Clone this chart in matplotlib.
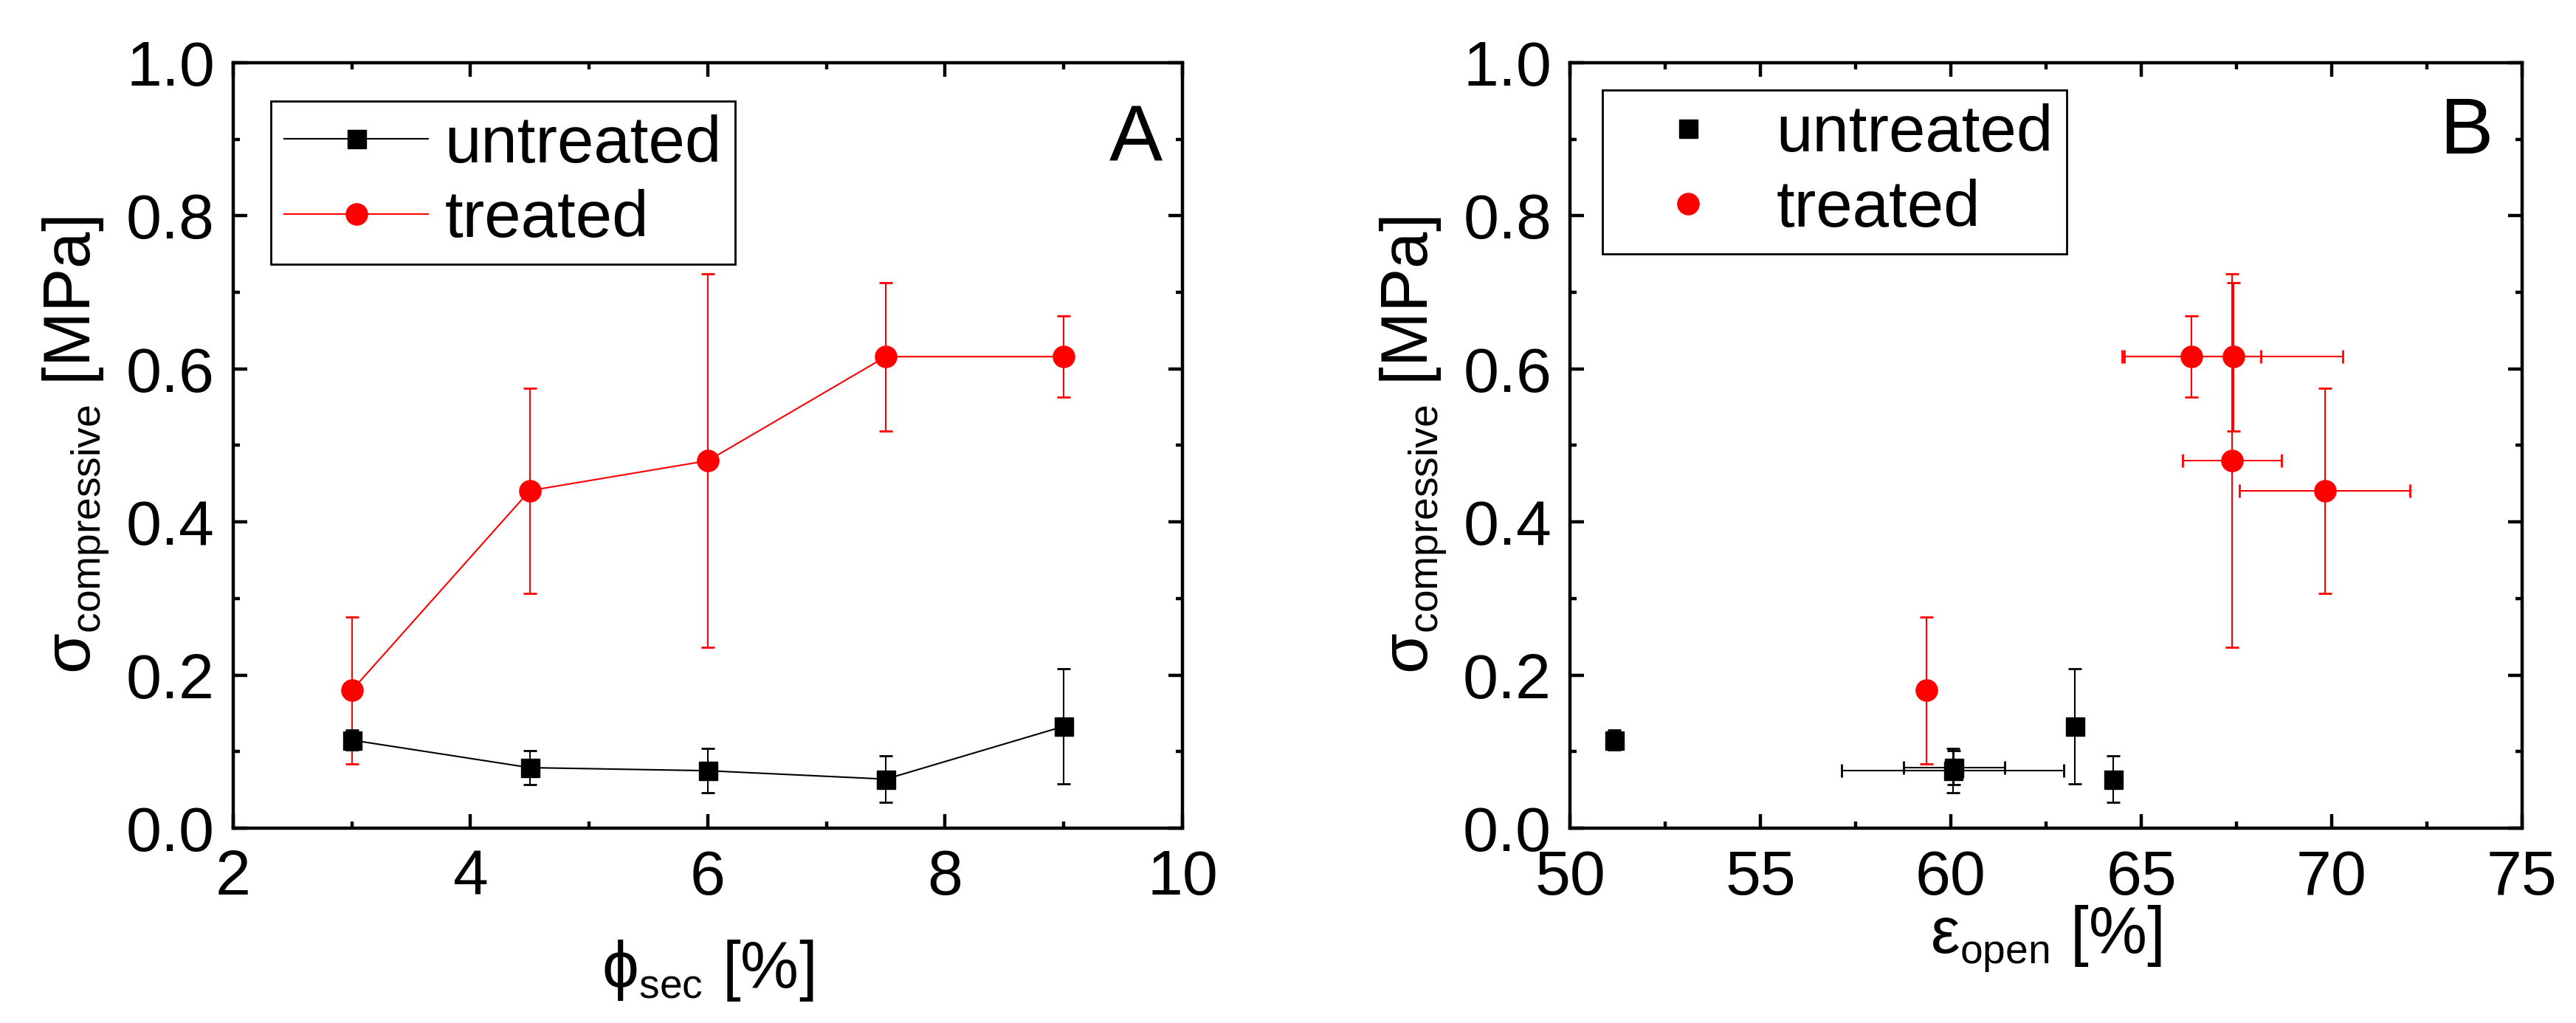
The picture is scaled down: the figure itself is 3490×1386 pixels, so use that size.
import numpy as np
import matplotlib
matplotlib.use('Agg')
import matplotlib.pyplot as plt
import matplotlib._mathtext as mathtext_internals
from matplotlib.ticker import MultipleLocator

plt.rcParams['font.family'] = ['Liberation Sans', 'DejaVu Sans']
plt.rcParams['mathtext.fontset'] = 'custom'
plt.rcParams['mathtext.rm'] = 'Liberation Sans'
plt.rcParams['mathtext.it'] = 'Liberation Sans'
plt.rcParams['mathtext.default'] = 'regular'
# subscripts in the original are smaller than mathtext's default 0.7
mathtext_internals.SHRINK_FACTOR = 0.62

# panel A - secondary phase fraction
phi_sec = [3.0, 4.5, 6.0, 7.5, 9.0]
sigma_untreated = [0.115, 0.079, 0.075, 0.064, 0.133]
sigma_untreated_err = [0.013, 0.022, 0.029, 0.030, 0.075]
sigma_treated = [0.180, 0.441, 0.480, 0.616, 0.616]
sigma_treated_err = [0.096, 0.134, 0.244, 0.097, 0.053]

# panel B - open porosity (same samples, same order)
eps_untreated = [51.16, 60.08, 60.05, 64.27, 63.26]
eps_untreated_err = [0.0, 1.33, 2.92, 0.0, 0.0]
eps_treated = [59.36, 69.82, 67.39, 67.43, 66.32]
eps_treated_err = [0.0, 2.24, 1.30, 2.87, 1.82]

W = 3.2      # spine / tick width in pt
FS = 62      # tick label size
LFS = 64     # axis label / legend size

fig = plt.figure(figsize=(34.91, 13.86), dpi=100)
axA = fig.add_axes([0.0905, 0.1905, 0.3684, 0.7482])
axB = fig.add_axes([0.6093, 0.1905, 0.3695, 0.7482])


def style(ax):
    for s in ax.spines.values():
        s.set_linewidth(W)
    ax.tick_params(which='both', direction='in', top=True, right=True, width=W, labelsize=FS)
    ax.tick_params(which='major', length=13.7)
    ax.tick_params(which='minor', length=6.5)
    ax.tick_params(axis='x', pad=20)
    ax.tick_params(axis='y', pad=18)
    ax.set_ylim(0, 1.0)
    ax.yaxis.set_major_locator(MultipleLocator(0.2))
    ax.yaxis.set_minor_locator(MultipleLocator(0.1))
    ax.yaxis.set_major_formatter(matplotlib.ticker.FormatStrFormatter('%.1f'))
    ax.set_ylabel(r'$\sigma_{compressive}$ [MPa]', fontsize=LFS, labelpad=14)


def legend(ax, handles, anchor):
    leg = ax.legend(handles=handles, loc='upper left', bbox_to_anchor=anchor,
                    fontsize=LFS, fancybox=False, edgecolor='black', framealpha=1,
                    handlelength=2.2, handletextpad=0.25, labelspacing=0.2,
                    borderaxespad=0, borderpad=0.2)
    leg.get_frame().set_linewidth(2)
    return leg


ebkw = dict(fmt='none', elinewidth=1.5, capsize=6.5, capthick=2)

# ---- A ----
style(axA)
axA.errorbar(phi_sec, sigma_treated, yerr=sigma_treated_err, ecolor='red', zorder=2, **ebkw)
axA.errorbar(phi_sec, sigma_untreated, yerr=sigma_untreated_err, ecolor='black', zorder=3, **ebkw)
l_tr, = axA.plot(phi_sec, sigma_treated, '-o', color='red', lw=1.5, ms=21, label='treated', zorder=2)
l_un, = axA.plot(phi_sec, sigma_untreated, '-s', color='black', lw=1.5, ms=18, label='untreated', zorder=3)
axA.set_xlim(2, 10)
axA.xaxis.set_major_locator(MultipleLocator(2))
axA.xaxis.set_minor_locator(MultipleLocator(1))
axA.set_xlabel(r'$\phi_{sec}$ [%]', fontsize=LFS, labelpad=30)
legend(axA, [l_un, l_tr], (0.0397, 0.950))
axA.text(0.979, 0.871, 'A', transform=axA.transAxes, fontsize=78, ha='right', va='baseline')

# ---- B ----
style(axB)
axB.errorbar(eps_treated, sigma_treated, xerr=eps_treated_err, yerr=sigma_treated_err,
             ecolor='red', zorder=2, **ebkw)
axB.errorbar(eps_untreated, sigma_untreated, xerr=eps_untreated_err, yerr=sigma_untreated_err,
             ecolor='black', zorder=3, **ebkw)
p_tr, = axB.plot(eps_treated, sigma_treated, 'o', color='red', ms=21, label='treated', zorder=2)
p_un, = axB.plot(eps_untreated, sigma_untreated, 's', color='black', ms=18, label='untreated', zorder=3)
axB.set_xlim(50, 75)
axB.xaxis.set_major_locator(MultipleLocator(5))
axB.xaxis.set_minor_locator(MultipleLocator(2.5))
axB.set_xlabel(r'$\varepsilon_{open}$ [%]', fontsize=LFS, labelpad=-4)
legend(axB, [p_un, p_tr], (0.0341, 0.964))
axB.text(0.969, 0.881, 'B', transform=axB.transAxes, fontsize=78, ha='right', va='baseline')

fig.savefig('out.png', dpi=100)
